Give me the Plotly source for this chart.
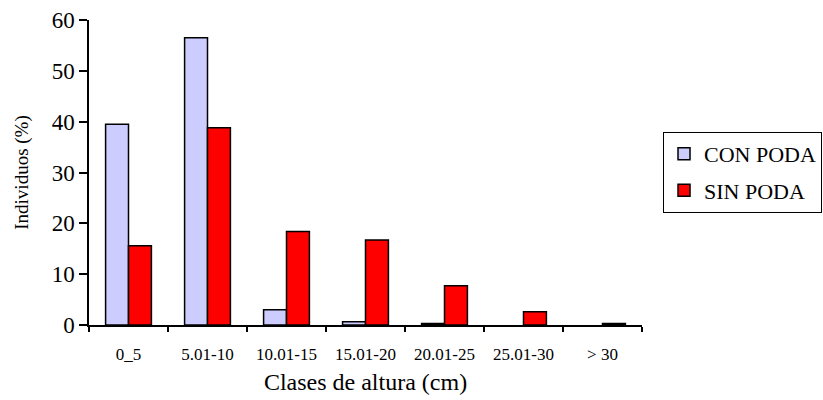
import plotly.graph_objects as go

# Height classes (cm) and share of individuals (%) per treatment
clases = ["0_5", "5.01-10", "10.01-15", "15.01-20", "20.01-25", "25.01-30", "> 30"]
con_poda = [39.5, 56.5, 3.0, 0.65, 0.3, 0.0, 0.0]
sin_poda = [15.6, 38.8, 18.4, 16.7, 7.7, 2.6, 0.3]

FONT = "Times New Roman, Liberation Serif, serif"


def outline_widths(values):
    # no outline for empty classes so a zero bar leaves no mark
    return [1.5 if v > 0 else 0 for v in values]


fig = go.Figure()
fig.add_trace(go.Bar(
    x=clases, y=con_poda, name="CON PODA", legendgroup="con",
    marker=dict(color="#ccccff", line=dict(color="black", width=outline_widths(con_poda))),
))
fig.add_trace(go.Bar(
    x=clases, y=sin_poda, name="SIN PODA", legendgroup="sin",
    marker=dict(color="#ff0000", line=dict(color="black", width=outline_widths(sin_poda))),
))

fig.update_layout(
    width=823, height=400,
    margin=dict(l=89, r=181, t=20, b=75, autoexpand=False),
    paper_bgcolor="white", plot_bgcolor="white",
    font=dict(family=FONT, color="black"),
    barmode="group", bargap=0.42, bargroupgap=0,
    showlegend=True,
    legend=dict(
        x=1.038, y=0.633, xanchor="left", yanchor="top",
        bordercolor="black", borderwidth=1,
        font=dict(family=FONT, size=22, color="black"),
        tracegroupgap=5, itemwidth=30,
    ),
    xaxis=dict(
        type="category",
        showline=True, linecolor="black", linewidth=1.5,
        ticks="outside", tickson="boundaries", ticklen=5, tickwidth=1.5, tickcolor="black",
        ticklabelstandoff=13,
        tickfont=dict(family=FONT, size=17),
        title=dict(text="Clases de altura (cm)", font=dict(family=FONT, size=24), standoff=10),
        showgrid=False,
    ),
    yaxis=dict(
        range=[0, 60], dtick=10,
        showline=True, linecolor="black", linewidth=1.5,
        ticks="outside", ticklen=8, tickwidth=1.5, tickcolor="black",
        tickfont=dict(family=FONT, size=23),
        title=dict(text="Individuos (%)", font=dict(family=FONT, size=19), standoff=18),
        showgrid=False, zeroline=False,
    ),
)

fig.write_html("out.html")
